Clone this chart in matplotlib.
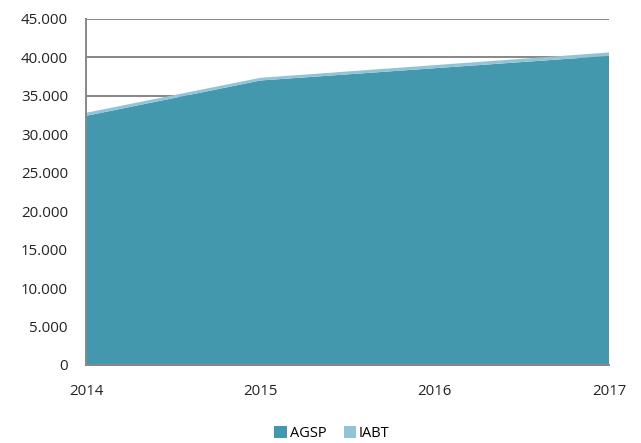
import matplotlib
matplotlib.use("Agg")
import matplotlib.pyplot as plt
from matplotlib.ticker import FuncFormatter, MultipleLocator

years = [2014, 2015, 2016, 2017]
agsp = [32400, 37000, 38600, 40200]
iabt = [400, 350, 400, 450]
series_names = ["AGSP", "IABT"]
colors = ["#4398AE", "#93C4D6"]

plt.rcParams['font.family'] = ['Open Sans', 'DejaVu Sans']

fig = plt.figure(figsize=(6.41, 4.43), dpi=100)
ax = fig.add_axes([86/641, 1 - 365/443, (609-86)/641, (365-19)/443])

ax.stackplot(years, agsp, iabt, colors=colors, labels=series_names, linewidth=0, zorder=2)

ax.set_xlim(2014, 2017)
ax.set_ylim(0, 45000)
ax.yaxis.set_major_locator(MultipleLocator(5000))
ax.set_xticks(years)
ax.yaxis.set_major_formatter(FuncFormatter(lambda v, p: f"{int(v):,}".replace(",", ".")))
ax.grid(axis='y', color='#878787', linewidth=1.4, zorder=1)
ax.set_axisbelow(True)
for s in ['top', 'right']:
    ax.spines[s].set_visible(False)
for s in ['left', 'bottom']:
    ax.spines[s].set_color('#878787')
    ax.spines[s].set_linewidth(1.4)
ax.tick_params(axis='both', length=0, labelsize=10.8, colors='#222222')
ax.tick_params(axis='y', pad=13)
ax.tick_params(axis='x', pad=14)

fig.legend(loc='lower center', bbox_to_anchor=(0.518, -0.025), ncol=2, frameon=False,
           fontsize=10.5, handlelength=0.85, handleheight=0.85, handletextpad=0.2, columnspacing=1.2)

fig.savefig("out.png", dpi=100)
